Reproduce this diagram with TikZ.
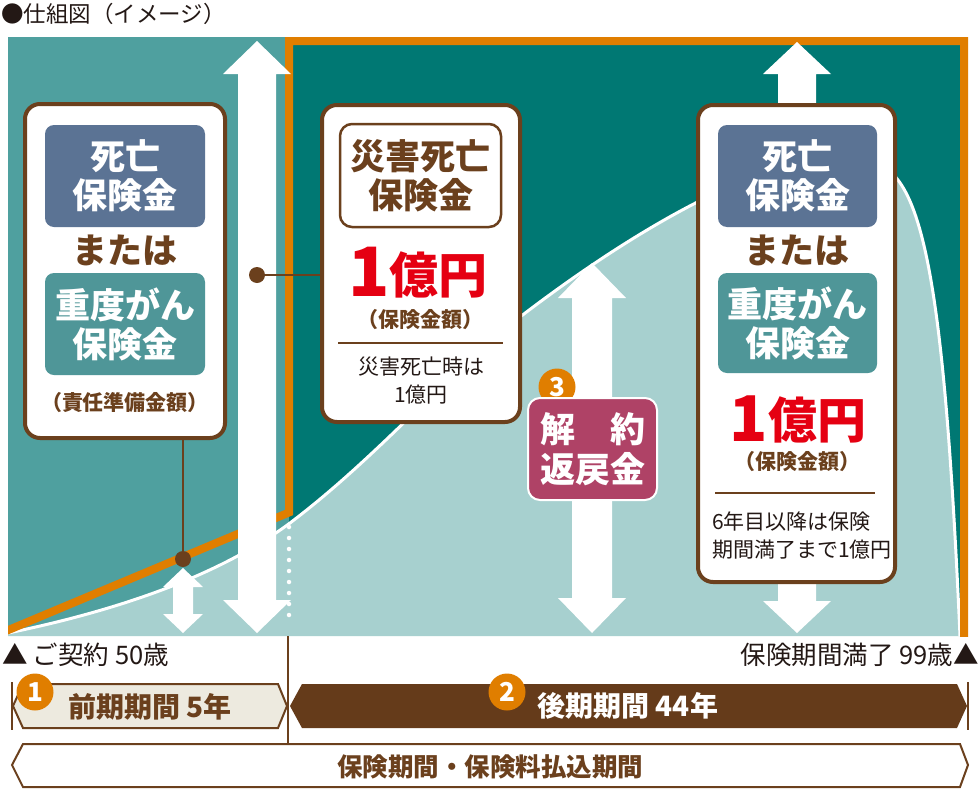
\documentclass[tikz,border=0pt]{standalone}
\usepackage{fontspec}
\setmainfont{Noto Sans CJK JP}
\newcommand\FS[2]{\fontsize{#1}{#2}\selectfont}
\definecolor{tealL}{HTML}{4FA09F}
\definecolor{tealD}{HTML}{007873}
\definecolor{tealP}{HTML}{A7D0CF}
\definecolor{orangeC}{HTML}{E07E00}
\definecolor{brownC}{HTML}{6B401D}
\definecolor{barBrown}{HTML}{653B1A}
\definecolor{blueBox}{HTML}{5B7394}
\definecolor{tealBox}{HTML}{4F9698}
\definecolor{redC}{HTML}{E50012}
\definecolor{magC}{HTML}{AF4266}
\definecolor{paleC}{HTML}{EDEADF}
\definecolor{darkT}{HTML}{231815}
\newcommand\DArrow[6]{\fill[white] (#1,#2) -- (#1+#5,#2+#6) -- (#1+#4,#2+#6) -- (#1+#4,#3-#6) -- (#1+#5,#3-#6) -- (#1,#3) -- (#1-#5,#3-#6) -- (#1-#4,#3-#6) -- (#1-#4,#2+#6) -- (#1-#5,#2+#6) -- cycle;}
\tikzset{
  panel/.style={draw=brownC, line width=4pt, fill=white, rounded corners=15pt, inner sep=0pt},
  innerbox/.style={rounded corners=9pt, minimum width=160pt, minimum height=102pt, inner sep=0pt, text=white, font=\bfseries\FS{35}{39}, align=center},
  ortxt/.style={text=brownC, font=\bfseries\FS{35}{35}, inner sep=0pt},
  smallbrown/.style={text=brownC, font=\bfseries\FS{21}{21}, inner sep=0pt},
  note/.style={text=darkT, font=\FS{21}{28}, inner sep=0pt},
  numc/.style={circle, fill=orangeC, minimum size=37pt, inner sep=0pt, text=white, font=\bfseries\FS{26}{26}},
  dotn/.style={circle, fill=brownC, minimum size=16pt, inner sep=0pt},
  conn/.style={draw=brownC, line width=2pt},
  bartxt/.style={font=\bfseries\FS{28}{28}, inner sep=0pt},
  lbl/.style={text=darkT, font=\FS{25.5}{25.5}, inner sep=0pt}
}
\begin{document}
\begin{tikzpicture}[x=1pt,y=-1pt]
\useasboundingbox[fill=white] (0,0) rectangle (980,790);
% title
\node[lbl, anchor=west, font=\FS{22.5}{22.5}] (title) at (1,14) {●仕組図（イメージ）};
% backgrounds
\fill[tealL] (8,37) rectangle (289,636);
\fill[tealD] (289,37) rectangle (968,636);
\fill[tealP] (8,636) -- (8,633) .. controls (120,610) and (220,575) .. (290,523)
  .. controls (380,455) and (450,370) .. (520,317)
  .. controls (640,225) and (800,130) .. (880,165)
  .. controls (925,185) and (945,300) .. (960,636) -- cycle;
\draw[white, line width=3pt] (8,633) .. controls (120,610) and (220,575) .. (290,523)
  .. controls (380,455) and (450,370) .. (520,317)
  .. controls (640,225) and (800,130) .. (880,165)
  .. controls (925,185) and (945,300) .. (960,636);
\begin{scope}
\clip (8,37) rectangle (968,636);
\draw[orangeC, line width=8pt] (0,633.5) -- (289,512.5) -- (289,41) -- (964,41) -- (964,645);
\end{scope}
\draw[white, line width=4.5pt, line cap=round, dash pattern=on 0pt off 11pt] (289,527) -- (289,625);
% arrows
\DArrow{257}{41}{633}{19}{34}{33}
\DArrow{183}{568}{633}{10}{20}{19}
\DArrow{592}{263}{633}{20}{34}{35}
\DArrow{797}{42}{633}{19}{34}{32}
% left panel
\node[panel, minimum width=200pt, minimum height=334pt] (lbox) at (125,271) {};
\node[innerbox, fill=blueBox] (ldeath) at (125,176) {死亡\\保険金};
\node[ortxt] (lor) at (125,250) {または};
\node[innerbox, fill=tealBox] (lcancer) at (125,324) {重度がん\\保険金};
\node[smallbrown] (lres) at (125,403) {（責任準備金額）};
% middle panel
\node[panel, minimum width=198pt, minimum height=317pt] (mbox) at (421,263.5) {};
\node[draw=brownC, line width=2.5pt, rounded corners=12pt, minimum width=161pt, minimum height=103pt, inner sep=0pt, text=brownC, font=\bfseries\FS{35}{39}, align=center] (macc) at (420.5,175.5) {災害死亡\\保険金};
\node[anchor=base, text=redC, font=\bfseries, inner sep=0pt] (moku) at (418,296) {\FS{68}{68}1\raisebox{3pt}{\FS{49}{49}億円}};
\node[smallbrown] (mamt) at (420,320) {（保険金額）};
\draw[brownC, line width=2pt] (338,343) -- (503,343);
\node[note, align=center] (mnote) at (421,381) {災害死亡時は\\1億円};
% surrender
\node[numc] (n3) at (557,387) {3};
\node[fill=magC, draw=white, line width=2pt, rounded corners=12pt, minimum width=129pt, minimum height=102pt, inner sep=0pt, text=white, font=\bfseries\FS{35}{40}, align=center] (surr) at (592.5,449) {解　約\\返戻金};
% right panel
\node[panel, minimum width=197pt, minimum height=477pt] (rbox) at (796.5,343.5) {};
\node[innerbox, fill=blueBox, minimum width=159pt] (rdeath) at (797.5,176) {死亡\\保険金};
\node[ortxt] (ror) at (797,250) {または};
\node[innerbox, fill=tealBox, minimum width=159pt, minimum height=100pt] (rcancer) at (797.5,323) {重度がん\\保険金};
\node[anchor=base, text=redC, font=\bfseries, inner sep=0pt] (roku) at (798,441) {\FS{63}{63}1\raisebox{3pt}{\FS{49}{49}億円}};
\node[smallbrown] (ramt) at (797,462) {（保険金額）};
\draw[brownC, line width=2pt] (715,493) -- (875,493);
\node[note, align=left, anchor=west] (rnote) at (712,536) {6年目以降は保険\\期間満了まで1億円};
% connectors
\node[dotn] (d1) at (183,559) {};
\draw[conn] (d1 |- lbox.south) -- (d1);
\node[dotn] (d2) at (257,275) {};
\draw[conn] (d2) -- (d2 -| mbox.west);
% bottom
\node[lbl, anchor=west] (start) at (2,655) {▲\hspace{5pt}ご契約\hspace{6pt}50歳};
\node[lbl, anchor=east] (end) at (979,655) {保険期間満了\hspace{6pt}99歳▲};
\draw[brownC, line width=1.2pt] (288,636) -- (288,744);
\draw[brownC, line width=1.2pt] (12,682) -- (12,730);
\draw[brownC, line width=1.2pt] (968,682) -- (968,730);
\draw[brownC, line width=2pt, fill=paleC] (13,706) -- (23,684) -- (278,684) -- (287,706) -- (278,728) -- (23,728) -- cycle;
\fill[barBrown] (290,706) -- (302,684) -- (957,684) -- (967,706) -- (957,728) -- (302,728) -- cycle;
\draw[brownC, line width=2pt, fill=white] (12,765) -- (23,744) -- (960,744) -- (968,765) -- (960,787) -- (23,787) -- cycle;
\node[bartxt, text=brownC] (t1) at (150,707) {前期期間\hspace{6pt}5年};
\node[bartxt, text=white] (t2) at (628,706) {後期期間\hspace{6pt}44年};
\node[bartxt, text=brownC, font=\bfseries\FS{25.5}{25.5}] (t3) at (490,767) {保険期間・保険料払込期間};
\node[numc] (n1) at (35,692) {1};
\node[numc] (n2) at (507,692) {2};
\end{tikzpicture}
\end{document}
